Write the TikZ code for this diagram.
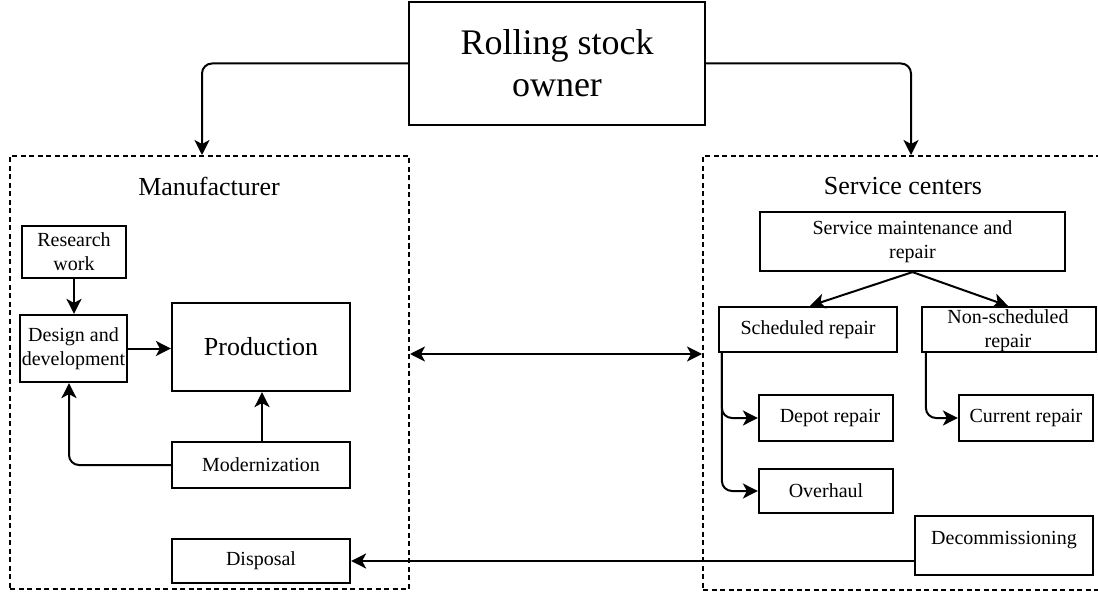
\documentclass[tikz,border=0pt]{standalone}
\usepackage{fontspec}
\setmainfont{Liberation Serif}
\usetikzlibrary{arrows.meta,positioning}
\tikzset{
  tip/.tip={Stealth[length=15pt,width=15pt,inset=4pt]},
  box/.style={draw, line width=2.2pt, rectangle, inner sep=0pt, align=center,
    font=\fontsize{20}{24}\selectfont},
  group/.style={draw, line width=2pt, dash pattern=on 5pt off 3.5pt, rectangle, inner sep=0pt},
  arr/.style={line width=2pt, -tip},
  dblarr/.style={line width=2pt, tip-tip},
  title/.style={font=\fontsize{26}{31}\selectfont}
}
\begin{document}
\begin{tikzpicture}[x=1pt,y=-1pt]
\useasboundingbox (0,0) rectangle (1098,596);
\clip (0,0) rectangle (1098,596);
% groups
\node[group, minimum width=399pt, minimum height=433pt] (mfg) at (209.5,372.5) {};
\node[group, minimum width=407pt, minimum height=434pt] (svc) at (906.5,373) {};
\node[title] (mfgt) at (209,186) {Manufacturer};
\node[title] (svct) at (903,186) {Service centers};
% owner
\node[box, minimum width=296pt, minimum height=123pt, font=\fontsize{36}{42}\selectfont] (owner) at (557,63.5) {Rolling stock\\owner};
% manufacturer boxes
\node[box, minimum width=104pt, minimum height=52pt] (research) at (74,252) {Research\\work};
\node[box, minimum width=107pt, minimum height=67pt] (design) at (73.5,348.5) {Design and\\development};
\node[box, minimum width=178pt, minimum height=88pt, font=\fontsize{26}{31}\selectfont] (production) at (261,347) {Production};
\node[box, minimum width=178pt, minimum height=46pt] (modern) at (261,465) {Modernization};
\node[box, minimum width=178pt, minimum height=44pt] (disposal) at (261,561) {Disposal};
% service boxes
\node[box, minimum width=305pt, minimum height=59pt] (smr) at (912.5,241.5) {Service maintenance and\\repair};
\node[box, minimum width=178pt, minimum height=45pt] (sched) at (808,329.5) {Scheduled repair};
\node[box, minimum width=174pt, minimum height=45pt] (nonsched) at (1009,329.5) {};
\node[font=\fontsize{20}{24}\selectfont, align=center] (nonschedt) at (1008,331) {Non-scheduled\\repair};
\node[box, minimum width=134pt, minimum height=46pt] (depot) at (826,418) {\hspace*{8pt}Depot repair};
\node[box, minimum width=134pt, minimum height=44pt] (overhaul) at (826,491) {Overhaul};
\node[box, minimum width=134pt, minimum height=46pt] (current) at (1026,418) {Current repair};
\node[box, minimum width=178pt, minimum height=59pt] (decom) at (1004,545.5) {};
\node[font=\fontsize{20}{24}\selectfont] (decomt) at (1004,540) {Decommissioning};
% connectors
\draw[arr, rounded corners=10pt] (owner.west) -| ([xshift=-7.5pt]mfg.north);
\draw[arr, rounded corners=10pt] (owner.east) -| ([xshift=4.5pt]svc.north);
\draw[arr] (research.south) -- (research.south |- design.north);
\draw[arr] (design.east) -- (design.east -| production.west);
\draw[arr] ([xshift=1pt]modern.north) -- ([xshift=1pt]production.south);
\draw[arr, rounded corners=10pt] (modern.west) -| ([xshift=-4.5pt]design.south);
\draw[dblarr] ([yshift=18.5pt]mfg.east) -- ([yshift=19pt]svc.west);
\draw[arr] (smr.south) -- ([xshift=2pt]sched.north);
\draw[arr] (smr.south) -- ([xshift=-1pt]nonsched.north);
\draw[arr, rounded corners=10pt] ([xshift=4pt]sched.south west) |- (depot.west);
\draw[arr, rounded corners=10pt] ([xshift=4pt]sched.south west) |- (overhaul.west);
\draw[arr, rounded corners=10pt] ([xshift=5pt]nonsched.south west) |- (current.west);
\draw[arr] (decom.west |- disposal.east) -- (disposal.east);
\end{tikzpicture}
\end{document}
